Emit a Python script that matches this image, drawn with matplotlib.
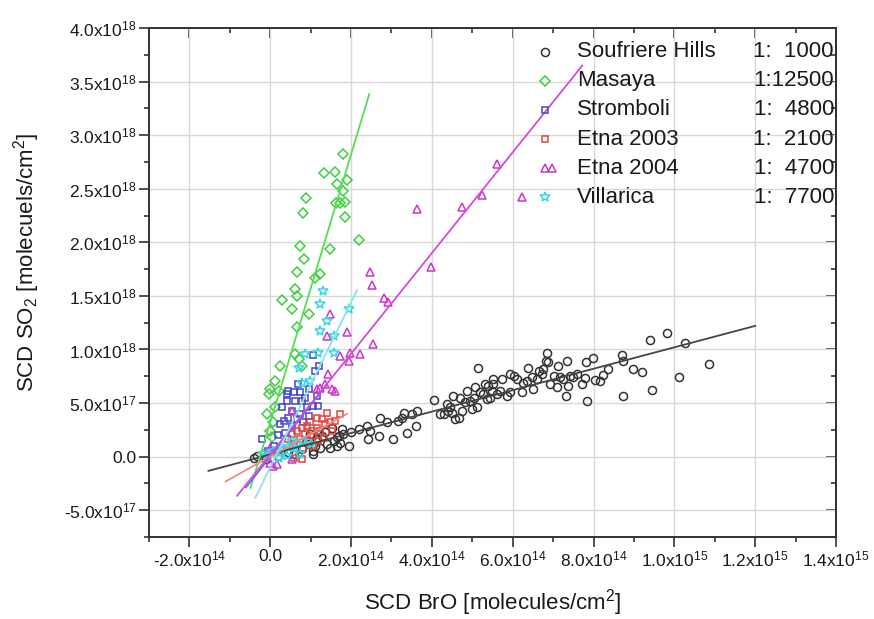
import numpy as np
import matplotlib
matplotlib.use('Agg')
import matplotlib.pyplot as plt
from matplotlib.ticker import MultipleLocator, FuncFormatter

plt.rcParams['font.family'] = ['Liberation Sans', 'DejaVu Sans']
plt.rcParams['mathtext.fontset'] = 'custom'
plt.rcParams['mathtext.rm'] = 'Liberation Sans'
plt.rcParams['mathtext.it'] = 'Liberation Sans:italic'
plt.rcParams['mathtext.bf'] = 'Liberation Sans:bold'

# BrO in 1e14 molec/cm2, SO2 in 1e17 molec/cm2
soufriere_bro = [-0.41, -0.33, 1.07, 1.11, 0.91, 0.99, 1.15, 1.28, 1.40, 1.48, 1.57, 1.65, 1.69, 1.73,
                 1.77, 1.81, 1.94, 1.52, 1.65, 2.39, 2.43, 2.47, 2.68, 2.72, 2.89, 3.05, 3.17,
                 1.24, 1.07, 0.95, 0.78, 0.20, 0.45, 0.60, -0.10, 1.35, 2.20, 2.00,
                 9.40, 9.81, 10.26, 10.86, 10.12, 9.45, 8.73, 8.70, 8.74, 8.98, 9.19, 8.35, 8.24, 8.16,
                 8.04, 7.99, 7.81, 7.85, 7.79, 7.71, 7.58, 7.50, 7.42, 7.34, 7.31, 7.38, 7.25, 7.17,
                 7.13, 7.09, 7.01, 6.92, 6.84, 6.82, 6.88, 6.76, 6.72, 6.64, 6.59, 6.51, 6.47, 6.37,
                 6.35, 6.26, 6.22, 6.10, 6.02, 5.93, 5.93, 5.85, 5.73, 5.69, 5.61, 5.52, 5.51, 5.48,
                 5.44, 5.40, 5.36, 5.32, 5.27, 5.19, 5.13, 5.11, 5.07, 5.03, 4.95, 4.99, 4.86, 4.82,
                 4.74, 4.70, 4.66, 4.53, 4.57, 4.49, 4.45, 4.41, 4.37, 4.29, 4.20, 4.06, 3.63, 3.60,
                 3.50, 3.38, 3.30, 3.26]
soufriere_so2 = [-0.15, 0.07, 0.5, 1.0, 1.5, 2.1, 1.6, 1.9, 1.15, 0.85, 1.45, 1.0, 1.9, 1.3,
                 2.55, 2.1, 1.0, 2.7, 1.8, 2.85, 1.6, 2.4, 1.95, 3.65, 3.2, 1.6, 3.35,
                 0.84, 0.22, 1.16, 0.69, 0.1, 0.4, 0.25, -0.2, 2.3, 2.6, 2.3,
                 10.9, 11.5, 10.6, 8.6, 7.4, 6.2, 5.7, 9.5, 8.9, 8.2, 7.85, 8.2, 7.6, 7.1,
                 7.15, 9.2, 8.8, 5.2, 7.3, 6.8, 7.7, 7.4, 7.55, 8.9, 5.7, 6.6, 7.2, 7.4,
                 8.5, 6.5, 7.55, 6.75, 9.7, 8.9, 8.85, 8.2, 7.7, 8.0, 7.2, 6.3, 7.4, 8.25,
                 7.1, 6.9, 6.0, 7.2, 7.55, 7.7, 6.0, 5.65, 7.2, 6.1, 5.8, 6.75, 7.2, 6.1,
                 5.5, 6.6, 5.35, 6.75, 5.8, 6.0, 8.3, 4.6, 6.45, 5.5, 5.2, 4.4, 6.1, 5.05,
                 4.3, 5.5, 3.65, 5.65, 3.5, 4.1, 4.6, 4.3, 4.9, 3.95, 3.95, 5.3, 4.3, 2.9,
                 3.95, 2.25, 4.1, 3.65]

masaya_bro = [1.81, 1.34, 1.61, 1.90, 1.66, 1.79, 0.89, 1.85, 1.63, 1.73, 0.80, 1.85, 2.20, 0.74,
              1.48, 0.84, 0.66, 1.24, 1.11, 0.62, 0.66, 0.29, 0.54, 0.95, 0.66, 0.62, 0.70, 0.25,
              0.78, 0.12, 0.00, -0.04, 0.21, 0.12, -0.08, 0.08, 0.00, 0.04]
masaya_so2 = [28.2, 26.5, 26.6, 25.8, 25.4, 24.8, 24.1, 23.8, 23.7, 23.7, 22.7, 22.4, 20.2, 19.7,
              19.4, 18.4, 17.2, 17.0, 16.7, 15.6, 15.0, 14.6, 13.8, 13.3, 12.1, 9.6, 9.1, 8.5,
              8.5, 7.1, 6.3, 5.8, 6.1, 4.6, 4.0, 3.2, 2.4, 1.8]

stromboli_bro = [1.10, 0.68, 0.45, 0.58, 0.74, 0.87, 0.97, 1.15, 1.19, 0.78, 0.62, 0.91, 0.41, 0.29,
                 0.54, 0.74, 0.95, 0.66, 0.45, 0.33, 0.82, 0.54, 0.25, 0.37, -0.21, 0.41, 1.07,
                 1.05, 1.20, 0.10, 0.20, -0.05, 0.15]
stromboli_so2 = [8.0, 6.8, 6.1, 6.0, 6.0, 5.5, 6.3, 5.7, 4.7, 5.2, 5.2, 4.6, 5.2, 4.6,
                 4.3, 4.0, 3.8, 3.5, 3.6, 3.3, 3.2, 2.9, 3.0, 2.2, 1.6, 5.8, 4.7,
                 9.5, 8.5, 1.0, 2.0, 0.5, 0.5]

etna03_bro = [1.40, 1.15, 1.28, 0.99, 0.91, 0.78, 0.66, 0.54, 0.45, 0.58, 0.74, 0.87, 1.03, 1.15,
              1.07, 1.24, 1.36, 1.48, 1.61, 0.95, 0.82, 0.70, 0.78, 0.58, 1.07, 1.19, 1.32, 1.73, 1.52]
etna03_so2 = [4.1, 3.65, 3.5, 3.2, 2.87, 2.7, 2.4, 2.1, 1.6, 1.16, 1.6, 2.1, 2.4, 2.7,
              1.93, 2.4, 3.0, 3.2, 3.35, 1.47, 0.84, 0.22, -0.25, -0.1, 1.0, 1.47, 1.78, 3.95, 2.4]

etna04_bro = [6.23, 6.97, 5.61, 5.24, 4.75, 3.64, 3.98, 2.47, 2.52, 2.92, 2.82, 1.48, 1.90, 2.55,
              1.98, 2.23, 1.94, 1.40, 1.61, 1.44, 1.15, 0.54, 0.00, 0.17, 0.08, 0.00, 0.54, 1.24,
              1.52, 1.36, 1.73]
etna04_so2 = [24.2, 26.9, 27.3, 24.4, 23.3, 23.1, 17.7, 17.2, 16.0, 14.4, 14.8, 13.3, 11.6, 10.5,
              9.7, 9.6, 8.9, 11.3, 6.1, 7.7, 6.3, 4.3, 0.8, -0.7, -0.9, -0.6, -0.2, 6.4,
              6.3, 6.8, 9.4]

villarica_bro = [1.24, 1.96, 1.40, 1.57, 1.24, 0.87, 1.19, 1.57, 0.70, 0.99, 0.78, 0.08, 0.33, 0.58,
                 0.74, 0.41, 0.21, -0.17, 0.54, 0.82, 0.25, -0.08, 1.30, 1.00, 0.65, 0.45]
villarica_so2 = [14.2, 13.8, 12.7, 11.3, 11.7, 9.6, 9.7, 9.7, 8.3, 7.1, 6.9, 0.5, 0.7, 0.8,
                 0.2, 0.1, -0.1, 0.2, 1.5, 1.5, 0.7, 0.1, 15.5, 1.2, 1.2, 0.9]

names = ['Soufriere Hills', 'Masaya', 'Stromboli', 'Etna 2003', 'Etna 2004', 'Villarica']
ratios = [1000, 12500, 4800, 2100, 4700, 7700]
# fit intercepts (molec/cm2) and x-range of each fit line (1e14 molec/cm2)
intercepts = [2e16, 3.2e17, 0.0, 0.0, 2e16, -1e17]
fit_start = [-1.53, -0.49, -0.6, -1.1, -0.82, -0.37]
fit_end = [12.0, 2.45, 1.4, 1.9, 7.72, 2.15]

bro_all = [soufriere_bro, masaya_bro, stromboli_bro, etna03_bro, etna04_bro, villarica_bro]
so2_all = [soufriere_so2, masaya_so2, stromboli_so2, etna03_so2, etna04_so2, villarica_so2]

markers = ['o', 'D', 's', 's', '^', '*']
msizes = [5.8, 4.8, 5.0, 5.0, 6.0, 7.5]
colors = ['#333333', '#3ccf3c', '#4444cc', '#e0443c', '#cc35cc', '#35d6e6']
line_colors = ['#454545', '#55dd55', '#6a6ae0', '#f08a80', '#d64ad6', '#8ae2f0']

fig = plt.figure(figsize=(8.74, 6.19), dpi=100)
ax = fig.add_axes([0.1705, 0.1325, 0.786, 0.8223])

for bro, so2, mk, ms, c in zip(bro_all, so2_all, markers, msizes, colors):
    ax.plot(np.array(bro) * 1e14, np.array(so2) * 1e17, ls='none', marker=mk, ms=ms,
            mfc='none', mec=c, mew=1.1, zorder=2)

for slope, b, x0, x1, c in zip(ratios, intercepts, fit_start, fit_end, line_colors):
    xs = np.array([x0, x1]) * 1e14
    ax.plot(xs, slope * xs + b, color=c, lw=1.3, zorder=3)

ax.set_xlim(-3e14, 1.4e15)
ax.set_ylim(-7.5e17, 4e18)


def sci_label(v, pos):
    if abs(v) < 1e10:
        return '0.0'
    e = int(np.floor(np.log10(abs(v)) + 1e-9))
    m = v / 10 ** e
    return '%.1fx10$^{%d}$' % (m, e)


for axis, major, minor in [(ax.xaxis, 2e14, 1e14), (ax.yaxis, 5e17, 2.5e17)]:
    axis.set_major_locator(MultipleLocator(major))
    axis.set_minor_locator(MultipleLocator(minor))
    axis.set_major_formatter(FuncFormatter(sci_label))

ax.tick_params(which='major', direction='out', length=7, width=1.2, labelsize=12.5,
               colors='#333333', labelcolor='#1a1a1a', pad=2)
ax.tick_params(which='minor', direction='out', length=3.5, width=1.2, colors='#333333')

top = ax.secondary_xaxis('top')
top.xaxis.set_major_locator(MultipleLocator(2e14))
top.xaxis.set_minor_locator(MultipleLocator(1e14))
top.tick_params(which='major', direction='in', length=7, width=1.2, colors='#333333', labeltop=False)
top.tick_params(which='minor', direction='in', length=3.5, width=1.2, colors='#333333')
right = ax.secondary_yaxis('right')
right.yaxis.set_major_locator(MultipleLocator(5e17))
right.yaxis.set_minor_locator(MultipleLocator(2.5e17))
right.tick_params(which='major', direction='in', length=7, width=1.2, colors='#333333', labelright=False)
right.tick_params(which='minor', direction='in', length=3.5, width=1.2, colors='#333333')
for sp in list(ax.spines.values()) + [top.spines['top'], right.spines['right']]:
    sp.set_color('#333333')
    sp.set_linewidth(1.4)

ax.grid(True, which='major', color='#d8d8d8', lw=1.0)
ax.set_axisbelow(True)

ax.set_xlabel(r'SCD BrO [molecules/cm$^2$]', fontsize=16, color='#1a1a1a', va='center')
ax.xaxis.set_label_coords(0.5, -0.128)
ax.set_ylabel(r'SCD SO$_2$ [molecuels/cm$^2$]', fontsize=16, color='#1a1a1a', va='center')
ax.yaxis.set_label_coords(-0.178, 0.54)

# legend: symbol, name, ratio column
for i, (name, r, mk, ms, c) in enumerate(zip(names, ratios, markers, msizes, colors)):
    y = 0.9534 - i * 0.0572
    ax.plot([0.5764], [y], transform=ax.transAxes, ls='none', marker=mk, ms=ms,
            mfc='none', mec=c, mew=1.1, clip_on=False, zorder=4)
    ax.text(0.623, y, name, transform=ax.transAxes, va='center', fontsize=16, color='#1a1a1a')
    ratio_txt = '1:' + str(r).rjust(5).replace(' ', '  ')
    ax.text(0.997, y, ratio_txt, transform=ax.transAxes, va='center', ha='right',
            fontsize=16, color='#1a1a1a')

fig.savefig('out.png', dpi=100)
